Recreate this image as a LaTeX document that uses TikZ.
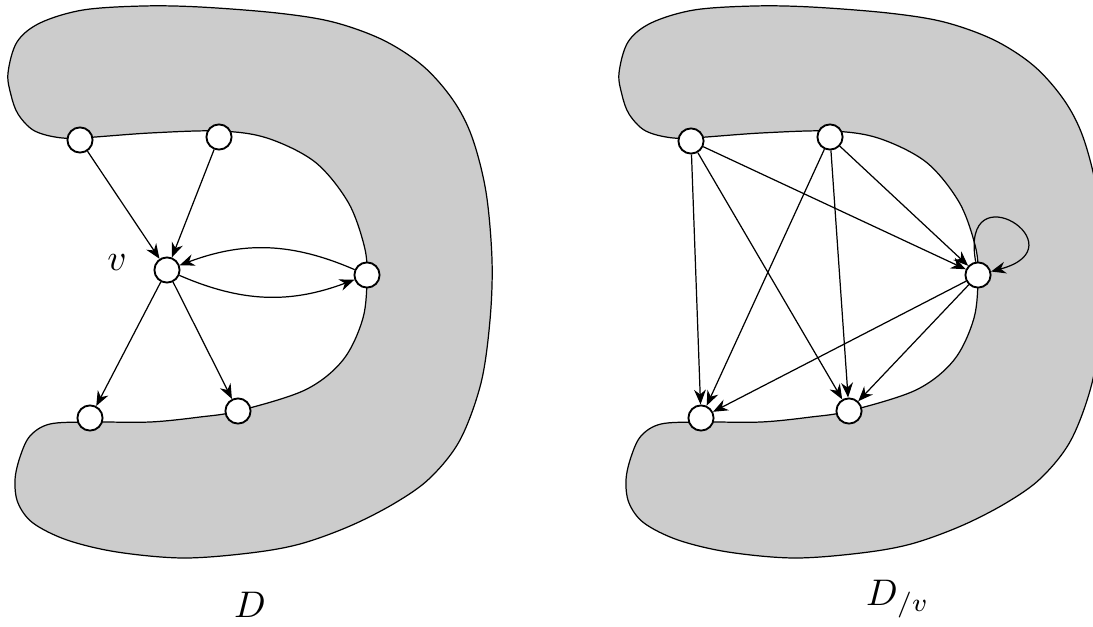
\documentclass[tikz,border=0pt]{standalone}
\usetikzlibrary{arrows.meta}
\definecolor{shade}{gray}{0.8}
\begin{document}
\tikzset{
 vtx/.style={circle,draw,fill=white,inner sep=0pt,minimum size=6.8pt,line width=0.5pt},
 arr/.style={-{Stealth[length=4pt,width=3.2pt,inset=1.3pt]},line width=0.33pt},
 blob/.style={fill=shade,draw,line width=0.33pt}
}
\begin{tikzpicture}[x=0.27pt,y=0.27pt]
\useasboundingbox (0,0) rectangle (1093,-626);
\clip (0,0) rectangle (1093,-626);
\foreach \dx in {0,611}{
\draw[blob,shift={(\dx,0)}] plot[smooth cycle,tension=0.55] coordinates {
(80,-138) (150,-133) (219,-131) (267,-138) (315,-162) (348,-202)
(364,-245) (367,-275) (363,-318) (343,-360) (305,-390)
(238,-411) (200,-417) (150,-422) (90,-422)
(50,-424) (30,-436) (20,-457) (15,-480) (18,-503) (33,-523) (67,-540)
(117,-552) (183,-558) (250,-553) (300,-544) (350,-526) (395,-503) (430,-478)
(460,-440) (481,-383) (490,-320) (492,-260) (486,-192) (472,-137) (453,-100)
(423,-66) (383,-40) (333,-22) (277,-13) (200,-7) (143,-6) (83,-10) (40,-23)
(17,-42) (8,-73) (11,-95) (18,-114) (33,-130) (55,-137)};
}
% left graph
\node[vtx] (a1) at (80,-140) {};
\node[vtx] (a2) at (219,-137) {};
\node[vtx] (v) at (167,-270) {};
\node[vtx] (r) at (367,-275) {};
\node[vtx] (b2) at (238,-411) {};
\node[vtx] (b1) at (90,-418) {};
\draw[arr] (a1) -- (v);
\draw[arr] (a2) -- (v);
\draw[arr] (r) to[bend right=22] (v);
\draw[arr] (v) to[bend right=22] (r);
\draw[arr] (v) -- (b1);
\draw[arr] (v) -- (b2);
\node[anchor=base] (lv) at (117,-270) {$v$};
\node[anchor=base] (ld) at (250,-617) {$D$};
% right graph
\node[vtx] (pa1) at (691,-141) {};
\node[vtx] (pa2) at (830,-137) {};
\node[vtx] (pr) at (978,-275) {};
\node[vtx] (pb2) at (849,-411) {};
\node[vtx] (pb1) at (701,-418) {};
\draw[arr] (pa1) -- (pr);
\draw[arr] (pa1) -- (pb1);
\draw[arr] (pa1) -- (pb2);
\draw[arr] (pa2) -- (pr);
\draw[arr] (pa2) -- (pb1);
\draw[arr] (pa2) -- (pb2);
\draw[arr] (pr) -- (pb1);
\draw[arr] (pr) -- (pb2);
\draw[arr] (pr.100) .. controls +(100:95) and +(15:95) .. (pr.15);
\node[anchor=base west] (ldv) at (853,-605) {$D_{/v}$};
\end{tikzpicture}
\end{document}
